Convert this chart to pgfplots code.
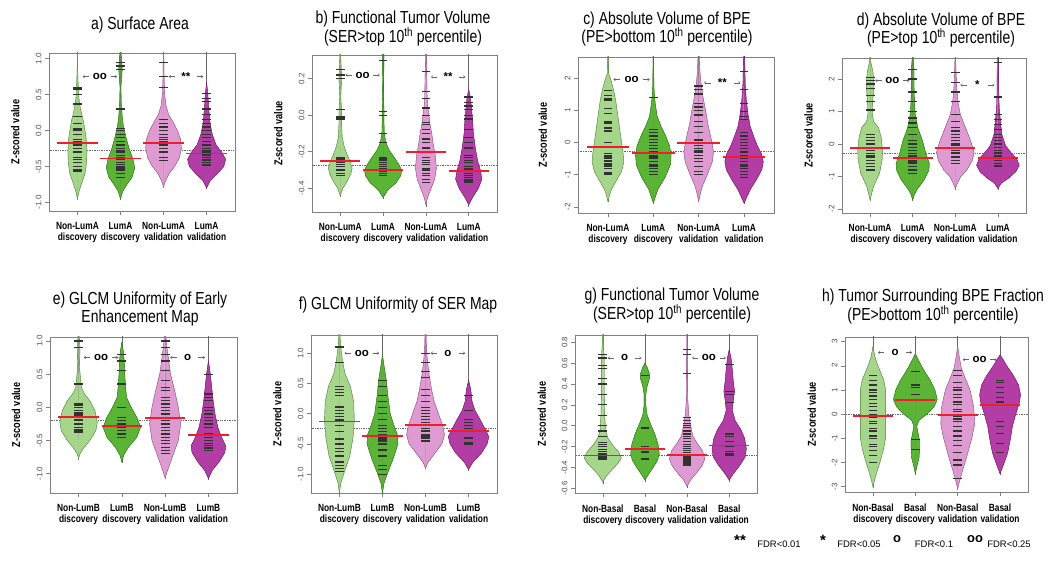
\documentclass[border=0pt]{standalone}
\usepackage{pgfplots}
\pgfplotsset{compat=1.18}
\usepackage{pgfplotstable}
\usepackage{fontspec}
\setmainfont{Liberation Sans}
\newfontfamily\nf{Liberation Sans}[FakeStretch=0.8]
\usetikzlibrary{arrows.meta}
\definecolor{lg}{RGB}{166,214,140}
\definecolor{mg}{RGB}{92,180,55}
\definecolor{lp}{RGB}{222,155,210}
\definecolor{mp}{RGB}{178,62,165}
\definecolor{lge}{RGB}{80,130,60}
\definecolor{mge}{RGB}{40,110,20}
\definecolor{lpe}{RGB}{140,80,130}
\definecolor{mpe}{RGB}{110,20,100}
\definecolor{mred}{RGB}{240,30,45}
\definecolor{bl}{RGB}{50,50,50}

% #1 centre, #2 fill, #3 edge, #4 bean table (y w), #5 bottom of centre line, #6 width factor, #7 bean lines
\newcommand{\bean}[7]{%
 \addplot[black!60, line width=0.5bp] coordinates {(#1,#5) (#1,20)};
 \addplot[fill=#2, draw=#2, line width=0.3bp] table[row sep=crcr, x expr={#1+#6*\thisrow{w}}, y=y]{#4} -- cycle;
 \addplot[fill=#2, draw=#2, line width=0.3bp] table[row sep=crcr, x expr={#1-#6*\thisrow{w}}, y=y]{#4} -- cycle;
 \addplot[draw=#3, line width=0.4bp] table[row sep=crcr, x expr={#1+#6*\thisrow{w}}, y=y]{#4};
 \addplot[draw=#3, line width=0.4bp] table[row sep=crcr, x expr={#1-#6*\thisrow{w}}, y=y]{#4};
 \addplot[only marks, mark=-, mark size=4.4bp, mark options={bl, line width=1.25bp}] table[row sep=crcr, x expr={#1}, y=y]{y\\#7\\};
}
\newcommand{\means}[4]{%
 \addplot[mred, line width=1.8bp] coordinates {(0.53,#1) (1.47,#1)};
 \addplot[mred, line width=1.8bp] coordinates {(1.53,#2) (2.47,#2)};
 \addplot[mred, line width=1.8bp] coordinates {(2.53,#3) (3.47,#3)};
 \addplot[mred, line width=1.8bp] coordinates {(3.53,#4) (4.47,#4)};
}
\newcommand{\overall}[1]{\addplot[black!60, densely dotted, line width=0.7bp] coordinates {(0,#1) (5,#1)};}
\newcommand{\sig}[3]{%
 \draw[-{To[length=2.2bp,width=3bp]}, black!60, line width=0.5bp] (axis cs:#1+0.27,#2) -- (axis cs:#1+0.12,#2);
 \node[font=\bfseries\fontsize{11.5}{11.5}\selectfont, inner sep=0pt] at (axis cs:#1+0.52,#2) {#3};
 \draw[-{To[length=2.2bp,width=3bp]}, black!60, line width=0.5bp] (axis cs:#1+0.77,#2) -- (axis cs:#1+0.92,#2);
}

\pgfplotsset{
 beanax/.style={scale only axis, anchor=south west, xmin=0.34, xmax=4.66, xtick={1,2,3,4},
  clip marker paths=true,
  xtick pos=bottom, ytick pos=left, tick align=outside, major tick length=4bp,
  axis line style={black!50, line width=0.6bp}, tick style={black!50, line width=0.5bp},
  yticklabel style={rotate=90, anchor=south, font=\fontsize{8}{9}\selectfont, text=black!70},
  xticklabel style={align=center, font=\nf\fontsize{10.5}{11}\selectfont\bfseries, yshift=-4bp},
  ylabel={Z-scored value},
  ylabel style={at={(axis description cs:-0.14,0.5)}, anchor=south, font=\nf\fontsize{11.5}{12}\selectfont\bfseries},
  /pgf/number format/assume math mode=true},
 dec1/.style={/pgf/number format/.cd, fixed, fixed zerofill, precision=1},
 dec0/.style={/pgf/number format/.cd, fixed, precision=0},
 lumA/.style={xticklabels={{Non-LumA\\discovery},{LumA\\discovery},{Non-LumA\\validation},{LumA\\validation}}},
 lumB/.style={xticklabels={{Non-LumB\\discovery},{LumB\\discovery},{Non-LumB\\validation},{LumB\\validation}}},
 basal/.style={xticklabels={{Non-Basal\\discovery},{Basal\\discovery},{Non-Basal\\validation},{Basal\\validation}}},
}

\begin{document}
\begin{tikzpicture}[x=1bp,y=1bp]
\path[use as bounding box] (0,0) rectangle (1050,578);

% ---------------- a
\begin{axis}[beanax, lumA, at={(49bp,367bp)}, width=186bp, height=158bp, ymin=-1.12, ymax=1.08, ytick={-1,-0.5,0,0.5,1}, yticklabel style={dec1}]
\overall{-0.27}
\bean{1}{lg}{lge}{y w\\-0.95 0\\-0.85 0.04\\-0.75 0.10\\-0.6 0.2\\-0.45 0.24\\-0.3 0.25\\-0.15 0.24\\0.0 0.2\\0.15 0.15\\0.3 0.08\\0.45 0.04\\0.6 0.025\\0.7 0.015\\0.9 0.005\\1.1 0\\}{-0.97}{0.88}
 {-0.57\\-0.55\\-0.5\\-0.45\\-0.4\\-0.38\\-0.3\\-0.25\\-0.2\\-0.15\\-0.12\\-0.05\\0.0\\0.02\\0.1\\0.2\\0.37\\0.5\\0.58\\0.6}
\bean{2}{mg}{mge}{y w\\-0.95 0\\-0.85 0.05\\-0.75 0.15\\-0.65 0.27\\-0.52 0.33\\-0.4 0.29\\-0.25 0.2\\-0.1 0.13\\0.05 0.07\\0.2 0.04\\0.35 0.02\\0.6 0.01\\0.85 0.04\\0.95 0.03\\1.1 0.01\\}{-0.97}{1}
 {-0.65\\-0.6\\-0.55\\-0.52\\-0.5\\-0.47\\-0.45\\-0.4\\-0.38\\-0.35\\-0.3\\-0.28\\-0.25\\-0.2\\-0.15\\-0.1\\-0.05\\0.0\\0.03\\0.3\\0.85\\0.9\\0.95}
\bean{3}{lp}{lpe}{y w\\-0.78 0\\-0.7 0.05\\-0.6 0.14\\-0.5 0.28\\-0.38 0.4\\-0.25 0.45\\-0.12 0.43\\0.0 0.35\\0.12 0.24\\0.22 0.13\\0.35 0.06\\0.5 0.03\\0.7 0.015\\0.9 0.01\\1.1 0.005\\}{-0.8}{0.92}
 {-0.42\\-0.38\\-0.3\\-0.25\\-0.2\\-0.17\\-0.15\\-0.12\\-0.1\\-0.05\\0.0\\0.05\\0.1\\0.15\\0.6\\0.75\\0.95}
\bean{4}{mp}{mpe}{y w\\-0.8 0\\-0.7 0.08\\-0.6 0.25\\-0.5 0.4\\-0.4 0.44\\-0.3 0.35\\-0.2 0.22\\-0.05 0.13\\0.1 0.08\\0.3 0.05\\0.5 0.03\\0.67 0\\}{-0.82}{1}
 {-0.48\\-0.45\\-0.42\\-0.4\\-0.38\\-0.35\\-0.33\\-0.3\\-0.28\\-0.25\\-0.2\\-0.15\\-0.1\\-0.05\\0.0\\0.05\\0.1\\0.15\\0.22\\0.3\\0.4\\0.45\\0.52}
\means{-0.17}{-0.39}{-0.17}{-0.32}
\sig{1}{0.75}{oo}
\sig{3}{0.75}{**}
\end{axis}

% ---------------- b
\begin{axis}[beanax, lumA, at={(312bp,366bp)}, width=185bp, height=157bp, ymin=-0.53, ymax=0.33, ytick={-0.4,-0.2,0,0.2}, yticklabel style={dec1}]
\overall{-0.275}
\bean{1}{lg}{lge}{y w\\-0.44 0\\-0.4 0.08\\-0.36 0.22\\-0.32 0.33\\-0.29 0.37\\-0.25 0.3\\-0.21 0.2\\-0.17 0.12\\-0.12 0.06\\-0.05 0.04\\0.03 0.04\\0.1 0.015\\0.2 0.04\\0.25 0.03\\0.34 0.01\\}{-0.45}{0.75}
 {-0.33\\-0.32\\-0.32\\-0.3\\-0.28\\-0.27\\-0.26\\-0.25\\-0.24\\-0.23\\-0.02\\-0.01\\0.03\\0.2\\0.22\\0.25}
\bean{2}{mg}{mge}{y w\\-0.45 0\\-0.41 0.12\\-0.37 0.33\\-0.33 0.45\\-0.3 0.47\\-0.27 0.4\\-0.23 0.28\\-0.19 0.15\\-0.15 0.07\\-0.1 0.03\\-0.02 0.02\\0.02 0.025\\0.1 0.01\\0.28 0.02\\0.34 0.02\\}{-0.46}{0.92}
 {-0.33\\-0.32\\-0.31\\-0.3\\-0.29\\-0.28\\-0.27\\-0.26\\-0.25\\-0.24\\-0.23\\-0.15\\-0.1\\0.0\\0.02\\0.3}
\bean{3}{lp}{lpe}{y w\\-0.49 0\\-0.45 0.06\\-0.4 0.18\\-0.35 0.3\\-0.29 0.36\\-0.22 0.32\\-0.16 0.25\\-0.1 0.2\\-0.05 0.14\\0.0 0.1\\0.05 0.06\\0.1 0.04\\0.2 0.03\\0.34 0.01\\}{-0.5}{0.68}
 {-0.37\\-0.35\\-0.33\\-0.32\\-0.3\\-0.29\\-0.27\\-0.26\\-0.25\\-0.23\\-0.2\\-0.18\\-0.15\\-0.13\\-0.1\\-0.08\\-0.05\\-0.04\\0.0\\0.04\\0.09\\0.13\\0.24}
\bean{4}{mp}{mpe}{y w\\-0.49 0\\-0.45 0.1\\-0.4 0.25\\-0.35 0.34\\-0.3 0.3\\-0.25 0.23\\-0.18 0.17\\-0.1 0.12\\-0.03 0.1\\0.04 0.07\\0.1 0.04\\0.14 0\\}{-0.5}{0.9}
 {-0.37\\-0.36\\-0.35\\-0.34\\-0.33\\-0.32\\-0.3\\-0.29\\-0.28\\-0.26\\-0.25\\-0.23\\-0.22\\-0.18\\-0.15\\-0.12\\-0.08\\-0.02\\0.0\\0.03\\0.05\\0.07\\0.1}
\means{-0.25}{-0.30}{-0.20}{-0.305}
\sig{1}{0.22}{oo}
\sig{3}{0.21}{**}
\end{axis}

% ---------------- c
\begin{axis}[beanax, lumA, at={(578bp,365bp)}, width=196bp, height=156bp, ymin=-2.19, ymax=2.65, ytick={-2,-1,0,1,2}, yticklabel style={dec0}]
\overall{-0.28}
\bean{1}{lg}{lge}{y w\\-1.83 0\\-1.6 0.04\\-1.45 0.08\\-1.2 0.18\\-0.9 0.3\\-0.6 0.35\\-0.3 0.33\\0.0 0.3\\0.4 0.26\\0.8 0.22\\1.3 0.17\\1.7 0.11\\2.0 0.05\\2.15 0.01\\2.7 0.005\\}{-1.85}{1}
 {-1.0\\-0.95\\-0.8\\-0.75\\-0.7\\-0.65\\-0.6\\-0.55\\-0.5\\-0.45\\-0.4\\-0.35\\0.0\\0.35\\0.45\\0.6\\0.65\\0.9\\1.05\\1.3\\1.35\\1.45\\1.6}
\bean{2}{mg}{mge}{y w\\-1.88 0\\-1.7 0.05\\-1.45 0.12\\-1.1 0.3\\-0.7 0.44\\-0.4 0.46\\-0.1 0.42\\0.2 0.32\\0.5 0.2\\0.8 0.1\\1.2 0.05\\1.5 0.025\\1.75 0.015\\2.7 0.005\\}{-1.9}{0.85}
 {-1.0\\-0.9\\-0.8\\-0.75\\-0.7\\-0.6\\-0.5\\-0.45\\-0.4\\-0.35\\-0.3\\-0.2\\-0.1\\0.0\\0.1\\0.2\\0.3\\0.4\\1.4}
\bean{3}{lp}{lpe}{y w\\-1.83 0\\-1.6 0.05\\-1.35 0.12\\-1.0 0.28\\-0.6 0.44\\-0.3 0.48\\0.0 0.43\\0.3 0.36\\0.6 0.29\\0.9 0.24\\1.4 0.14\\1.8 0.08\\2.2 0.04\\2.7 0.02\\}{-1.85}{0.68}
 {-1.0\\-0.9\\-0.75\\-0.6\\-0.5\\-0.4\\-0.3\\-0.25\\-0.2\\-0.1\\0.0\\0.05\\0.1\\0.3\\0.5\\0.65\\0.85\\1.0\\1.1\\1.2\\1.5\\1.65\\1.75}
\bean{4}{mp}{mpe}{y w\\-1.88 0\\-1.7 0.07\\-1.45 0.17\\-1.15 0.33\\-0.85 0.47\\-0.6 0.51\\-0.35 0.46\\-0.1 0.35\\0.2 0.25\\0.5 0.16\\0.9 0.1\\1.3 0.06\\1.8 0.03\\2.7 0.015\\}{-1.9}{0.83}
 {-1.1\\-1.0\\-0.9\\-0.8\\-0.75\\-0.7\\-0.6\\-0.5\\-0.45\\-0.4\\-0.3\\-0.2\\-0.1\\0.0\\0.1\\0.2\\0.3\\0.7\\0.8\\0.95\\1.2\\1.65\\2.2}
\means{-0.15}{-0.33}{-0.02}{-0.46}
\sig{1}{1.95}{oo}
\sig{3}{1.85}{**}
\end{axis}

% ---------------- d
\begin{axis}[beanax, lumA, at={(842bp,365bp)}, width=184bp, height=155bp, ymin=-2.12, ymax=2.65, ytick={-2,-1,0,1,2}, yticklabel style={dec0}]
\overall{-0.3}
\bean{1}{lg}{lge}{y w\\-1.72 0\\-1.5 0.04\\-1.3 0.08\\-0.9 0.22\\-0.5 0.28\\-0.2 0.29\\0.2 0.26\\0.5 0.2\\0.7 0.08\\0.95 0.05\\1.3 0.06\\1.8 0.09\\2.2 0.07\\2.5 0.02\\2.7 0.005\\}{-1.75}{1}
 {-0.8\\-0.7\\-0.6\\-0.5\\-0.4\\-0.35\\-0.3\\-0.2\\-0.1\\0.0\\0.1\\0.2\\0.3\\1.05\\1.3\\1.5\\1.7\\1.85\\1.95\\2.05}
\bean{2}{mg}{mge}{y w\\-1.72 0\\-1.55 0.04\\-1.4 0.1\\-1.1 0.27\\-0.8 0.38\\-0.6 0.39\\-0.3 0.31\\0.1 0.23\\0.5 0.12\\0.9 0.06\\1.3 0.04\\1.8 0.03\\2.3 0.03\\2.7 0.01\\}{-1.75}{1}
 {-0.9\\-0.8\\-0.7\\-0.6\\-0.55\\-0.5\\-0.4\\-0.35\\-0.3\\-0.2\\-0.1\\0.0\\0.1\\0.3\\0.5\\0.65\\0.8\\1.0\\1.3\\1.6\\2.0\\2.3}
\bean{3}{lp}{lpe}{y w\\-1.36 0\\-1.2 0.05\\-1.0 0.13\\-0.8 0.27\\-0.5 0.4\\-0.25 0.44\\0.1 0.36\\0.5 0.24\\0.9 0.12\\1.3 0.06\\1.8 0.03\\2.3 0.015\\2.7 0.005\\}{-1.4}{1}
 {-0.6\\-0.5\\-0.4\\-0.3\\-0.25\\-0.2\\-0.1\\-0.05\\0.0\\0.1\\0.2\\0.3\\0.4\\0.5\\0.7\\0.9\\1.3\\1.6\\1.9\\2.2}
\bean{4}{mp}{mpe}{y w\\-1.36 0\\-1.2 0.08\\-1.05 0.25\\-0.85 0.42\\-0.65 0.5\\-0.45 0.44\\-0.25 0.3\\-0.05 0.18\\0.3 0.09\\0.7 0.06\\1.1 0.03\\1.6 0.02\\2.7 0.015\\}{-1.4}{1}
 {-0.7\\-0.65\\-0.6\\-0.5\\-0.45\\-0.4\\-0.35\\-0.3\\-0.25\\-0.2\\-0.1\\0.0\\0.1\\0.2\\0.3\\0.45\\0.6\\0.75\\0.9\\1.45\\2.5}
\means{-0.12}{-0.43}{-0.11}{-0.42}
\sig{1}{1.95}{oo}
\sig{3}{1.82}{*}
\end{axis}

% ---------------- e
\begin{axis}[beanax, lumB, at={(50bp,85bp)}, width=187bp, height=156bp, ymin=-1.29, ymax=1.06, ytick={-1,-0.5,0,0.5,1}, yticklabel style={dec1}]
\overall{-0.19}
\bean{1}{lg}{lge}{y w\\-0.77 0\\-0.7 0.03\\-0.62 0.1\\-0.5 0.24\\-0.35 0.37\\-0.22 0.4\\-0.05 0.35\\0.1 0.24\\0.2 0.13\\0.3 0.06\\0.45 0.04\\0.6 0.02\\0.9 0.03\\1.1 0.01\\}{-0.79}{1.08}
 {-0.37\\-0.35\\-0.33\\-0.3\\-0.25\\-0.2\\-0.18\\-0.15\\-0.12\\-0.1\\-0.08\\-0.05\\0.0\\0.03\\0.05\\0.35\\0.9\\1.0}
\bean{2}{mg}{mge}{y w\\-0.82 0\\-0.72 0.04\\-0.6 0.14\\-0.45 0.32\\-0.3 0.4\\-0.15 0.32\\0.0 0.2\\0.15 0.1\\0.3 0.08\\0.5 0.06\\0.7 0.05\\0.85 0.03\\0.98 0\\}{-0.84}{1.08}
 {-0.45\\-0.4\\-0.35\\-0.3\\-0.28\\-0.25\\-0.2\\-0.15\\0.0\\0.35\\0.55\\0.7\\0.8}
\bean{3}{lp}{lpe}{y w\\-1.06 0\\-0.95 0.04\\-0.75 0.12\\-0.5 0.22\\-0.25 0.26\\0.0 0.22\\0.25 0.16\\0.5 0.09\\0.7 0.06\\0.9 0.03\\1.1 0.01\\}{-1.08}{1.38}
 {-0.7\\-0.65\\-0.6\\-0.55\\-0.5\\-0.45\\-0.4\\-0.35\\-0.3\\-0.25\\-0.2\\-0.15\\-0.1\\-0.05\\0.0\\0.05\\0.1\\0.15\\0.25\\0.3\\0.4\\0.55\\0.7\\0.8\\0.9\\1.0}
\bean{4}{mp}{mpe}{y w\\-1.07 0\\-0.95 0.08\\-0.82 0.23\\-0.68 0.35\\-0.58 0.37\\-0.45 0.28\\-0.3 0.2\\-0.1 0.14\\0.1 0.1\\0.3 0.07\\0.5 0.04\\0.7 0\\}{-1.09}{1.08}
 {-0.65\\-0.62\\-0.6\\-0.58\\-0.55\\-0.5\\-0.45\\-0.4\\-0.3\\-0.25\\-0.2\\-0.15\\-0.1\\-0.05\\0.0\\0.1\\0.15\\0.2\\0.5}
\means{-0.15}{-0.28}{-0.16}{-0.42}
\sig{1}{0.75}{oo}
\sig{3}{0.75}{o}
\end{axis}

% ---------------- f
\begin{axis}[beanax, lumB, at={(311bp,85bp)}, width=186bp, height=158bp, ymin=-1.31, ymax=1.30, ytick={-1,-0.5,0,0.5,1}, yticklabel style={dec1}]
\overall{-0.24}
\bean{1}{lg}{lge}{y w\\-1.31 0\\-1.15 0.02\\-0.95 0.08\\-0.7 0.16\\-0.4 0.21\\-0.1 0.23\\0.2 0.22\\0.45 0.17\\0.65 0.09\\0.85 0.05\\1.1 0.02\\1.35 0.005\\}{-1.4}{1.5}
 {-0.95\\-0.9\\-0.85\\-0.8\\-0.7\\-0.62\\-0.58\\-0.5\\-0.43\\-0.42\\-0.3\\-0.2\\-0.12\\-0.1\\-0.05\\0.0\\0.05\\0.1\\0.12\\0.3\\0.35\\0.4\\0.45\\0.85\\1.1}
\bean{2}{mg}{mge}{y w\\-1.31 0\\-1.15 0.03\\-0.95 0.12\\-0.75 0.22\\-0.5 0.32\\-0.35 0.31\\-0.2 0.24\\0.0 0.16\\0.3 0.11\\0.55 0.08\\0.75 0.04\\0.97 0\\}{-1.4}{1.12}
 {-1.0\\-0.92\\-0.85\\-0.7\\-0.6\\-0.5\\-0.45\\-0.42\\-0.4\\-0.35\\-0.3\\-0.25\\-0.2\\-0.1\\0.0\\0.1\\0.2\\0.3\\0.45\\0.55}
\bean{3}{lp}{lpe}{y w\\-0.9 0\\-0.8 0.06\\-0.65 0.22\\-0.5 0.38\\-0.35 0.44\\-0.2 0.4\\0.0 0.3\\0.2 0.2\\0.4 0.14\\0.65 0.08\\0.9 0.04\\1.1 0.02\\1.35 0.01\\}{-0.92}{1}
 {-0.45\\-0.4\\-0.38\\-0.35\\-0.3\\-0.28\\-0.25\\-0.2\\-0.15\\-0.1\\-0.05\\0.0\\0.05\\0.1\\0.2\\0.3\\0.4\\0.6\\0.7\\0.85\\1.0}
\bean{4}{mp}{mpe}{y w\\-0.92 0\\-0.8 0.1\\-0.65 0.3\\-0.5 0.43\\-0.38 0.47\\-0.25 0.38\\-0.1 0.27\\0.05 0.15\\0.2 0.08\\0.4 0.05\\0.55 0\\}{-0.95}{1}
 {-0.5\\-0.48\\-0.4\\-0.3\\-0.25\\-0.2\\-0.15\\-0.1\\0.05\\0.3}
\means{-0.13}{-0.37}{-0.19}{-0.28}
\sig{1}{1.0}{oo}
\sig{3}{1.0}{o}
\end{axis}

% ---------------- g
\begin{axis}[beanax, basal, at={(575bp,85bp)}, width=182bp, height=158bp, ymin=-0.645, ymax=0.87, ytick={-0.6,-0.4,-0.2,0,0.2,0.4,0.6,0.8}, yticklabel style={dec1}]
\overall{-0.28}
\bean{1}{lg}{lge}{y w\\-0.54 0\\-0.48 0.08\\-0.42 0.2\\-0.36 0.33\\-0.31 0.4\\-0.25 0.34\\-0.19 0.22\\-0.12 0.11\\-0.05 0.06\\0.1 0.04\\0.3 0.03\\0.5 0.03\\0.65 0.03\\0.75 0.015\\0.9 0.005\\}{-0.56}{1.1}
 {-0.32\\-0.32\\-0.31\\-0.3\\-0.29\\-0.28\\-0.27\\-0.25\\-0.23\\-0.2\\-0.18\\-0.16\\-0.1\\-0.05\\0.0\\0.1\\0.2\\0.3\\0.4\\0.45\\0.55\\0.58\\0.65\\0.68}
\bean{2}{mg}{mge}{y w\\-0.52 0\\-0.47 0.06\\-0.4 0.15\\-0.33 0.23\\-0.27 0.26\\-0.18 0.24\\-0.08 0.18\\0.02 0.1\\0.1 0.04\\0.2 0.015\\0.3 0.015\\0.38 0.04\\0.45 0.08\\0.5 0.08\\0.56 0.04\\0.6 0\\}{-0.54}{1.3}
 {-0.32\\-0.26\\-0.25\\-0.22\\-0.2\\-0.03\\-0.02\\0.48}
\bean{3}{lp}{lpe}{y w\\-0.58 0\\-0.52 0.08\\-0.46 0.2\\-0.39 0.33\\-0.32 0.4\\-0.24 0.35\\-0.17 0.23\\-0.1 0.13\\0.0 0.08\\0.1 0.04\\0.25 0.015\\0.9 0.005\\}{-0.6}{1.05}
 {-0.38\\-0.37\\-0.36\\-0.35\\-0.34\\-0.33\\-0.32\\-0.3\\-0.28\\-0.26\\-0.24\\-0.22\\-0.2\\-0.18\\-0.15\\-0.12\\-0.1\\-0.08\\-0.05\\-0.02\\0.0\\0.02\\0.05\\0.08\\0.5\\0.68\\0.73}
\bean{4}{mp}{mpe}{y w\\-0.52 0\\-0.46 0.07\\-0.38 0.18\\-0.3 0.27\\-0.22 0.29\\-0.12 0.26\\-0.04 0.2\\0.05 0.1\\0.15 0.05\\0.25 0.07\\0.33 0.09\\0.42 0.07\\0.55 0.05\\0.65 0.03\\0.73 0\\}{-0.54}{1.4}
 {-0.28\\-0.27\\-0.25\\-0.2\\-0.15\\-0.1\\-0.08\\0.22\\0.3\\0.33\\0.59}
\means{-0.285}{-0.22}{-0.28}{-0.19}
\sig{1}{0.65}{o}
\sig{3}{0.65}{oo}
\end{axis}

% ---------------- h
\begin{axis}[beanax, basal, at={(845bp,86bp)}, width=183bp, height=155bp, ymin=-3.22, ymax=3.19, ytick={-3,-2,-1,0,1,2,3}, yticklabel style={dec0}]
\overall{0.0}
\bean{1}{lg}{lge}{y w\\-3.0 0\\-2.7 0.03\\-2.3 0.08\\-2.0 0.12\\-1.5 0.18\\-1.0 0.22\\0.0 0.22\\1.0 0.22\\1.4 0.19\\1.8 0.12\\2.1 0.07\\2.4 0.03\\2.8 0\\}{-3.05}{1.35}
 {-2.0\\-1.7\\-1.5\\-1.35\\-1.25\\-1.0\\-0.9\\-0.7\\-0.6\\-0.4\\-0.3\\-0.15\\-0.1\\0.0\\0.15\\0.3\\0.45\\0.6\\0.75\\0.9\\1.0\\1.2\\1.4\\1.6}
\bean{2}{mg}{mge}{y w\\-2.46 0\\-2.1 0.04\\-1.8 0.08\\-1.4 0.09\\-1.1 0.09\\-0.8 0.06\\-0.5 0.03\\-0.25 0.08\\0.0 0.25\\0.3 0.4\\0.6 0.47\\1.0 0.42\\1.4 0.32\\1.7 0.22\\2.0 0.13\\2.3 0.05\\2.5 0\\}{-2.5}{1.1}
 {-1.45\\-1.05\\0.6\\0.8\\1.1\\1.2\\1.75}
\bean{3}{lp}{lpe}{y w\\-3.08 0\\-2.7 0.05\\-2.3 0.11\\-2.0 0.16\\-1.4 0.25\\-0.9 0.32\\-0.4 0.37\\0.3 0.35\\1.0 0.27\\1.5 0.16\\1.9 0.08\\2.3 0.04\\2.8 0\\}{-3.15}{1.08}
 {-2.65\\-2.1\\-1.9\\-1.6\\-1.3\\-1.1\\-0.9\\-0.7\\-0.5\\-0.3\\-0.2\\-0.1\\0.0\\0.1\\0.2\\0.4\\0.5\\0.7\\0.8\\1.0\\1.1\\1.3\\1.6\\1.8}
\bean{4}{mp}{mpe}{y w\\-2.46 0\\-2.1 0.07\\-1.6 0.16\\-1.0 0.22\\-0.5 0.26\\0.0 0.33\\0.5 0.41\\0.8 0.43\\1.2 0.39\\1.6 0.28\\2.0 0.14\\2.3 0.05\\2.44 0\\}{-2.5}{1.12}
 {-1.6\\-1.2\\-0.8\\-0.5\\-0.3\\0.5\\0.7\\0.9\\1.1\\1.3\\1.4}
\means{-0.08}{0.6}{-0.05}{0.37}
\sig{1}{2.55}{o}
\sig{3}{2.25}{oo}
\end{axis}

% ---------------- titles
\begin{scope}[every node/.style={font=\nf\fontsize{17.5}{19}\selectfont, align=center, inner sep=0pt}]
\node at (140,553) {a) Surface Area};
\node at (403,549.5) {b) Functional Tumor Volume\\(SER>top 10\textsuperscript{th} percentile)};
\node at (667,549) {c) Absolute Volume of BPE\\(PE>bottom 10\textsuperscript{th} percentile)};
\node at (941,548) {d) Absolute Volume of BPE\\(PE>top 10\textsuperscript{th} percentile)};
\node at (140,269) {e) GLCM Uniformity of Early\\Enhancement Map};
\node at (398,273) {f) GLCM Uniformity of SER Map};
\node at (672,272.5) {g) Functional Tumor Volume\\(SER>top 10\textsuperscript{th} percentile)};
\node at (933,271.5) {h) Tumor Surrounding BPE Fraction\\(PE>bottom 10\textsuperscript{th} percentile)};
\end{scope}

% ---------------- significance key
\begin{scope}[every node/.style={inner sep=0pt}]
\node[font=\bfseries\fontsize{15}{15}\selectfont] at (740,38) {**};
\node[font=\fontsize{9.5}{10}\selectfont] at (779,34) {FDR<0.01};
\node[font=\bfseries\fontsize{15}{15}\selectfont] at (823,38) {*};
\node[font=\fontsize{9.5}{10}\selectfont] at (859,34) {FDR<0.05};
\node[font=\bfseries\fontsize{13}{13}\selectfont] at (897,39) {o};
\node[font=\fontsize{9.5}{10}\selectfont] at (934,34) {FDR<0.1};
\node[font=\bfseries\fontsize{13}{13}\selectfont] at (975,39) {oo};
\node[font=\fontsize{9.5}{10}\selectfont] at (1009,34) {FDR<0.25};
\end{scope}
\end{tikzpicture}
\end{document}
